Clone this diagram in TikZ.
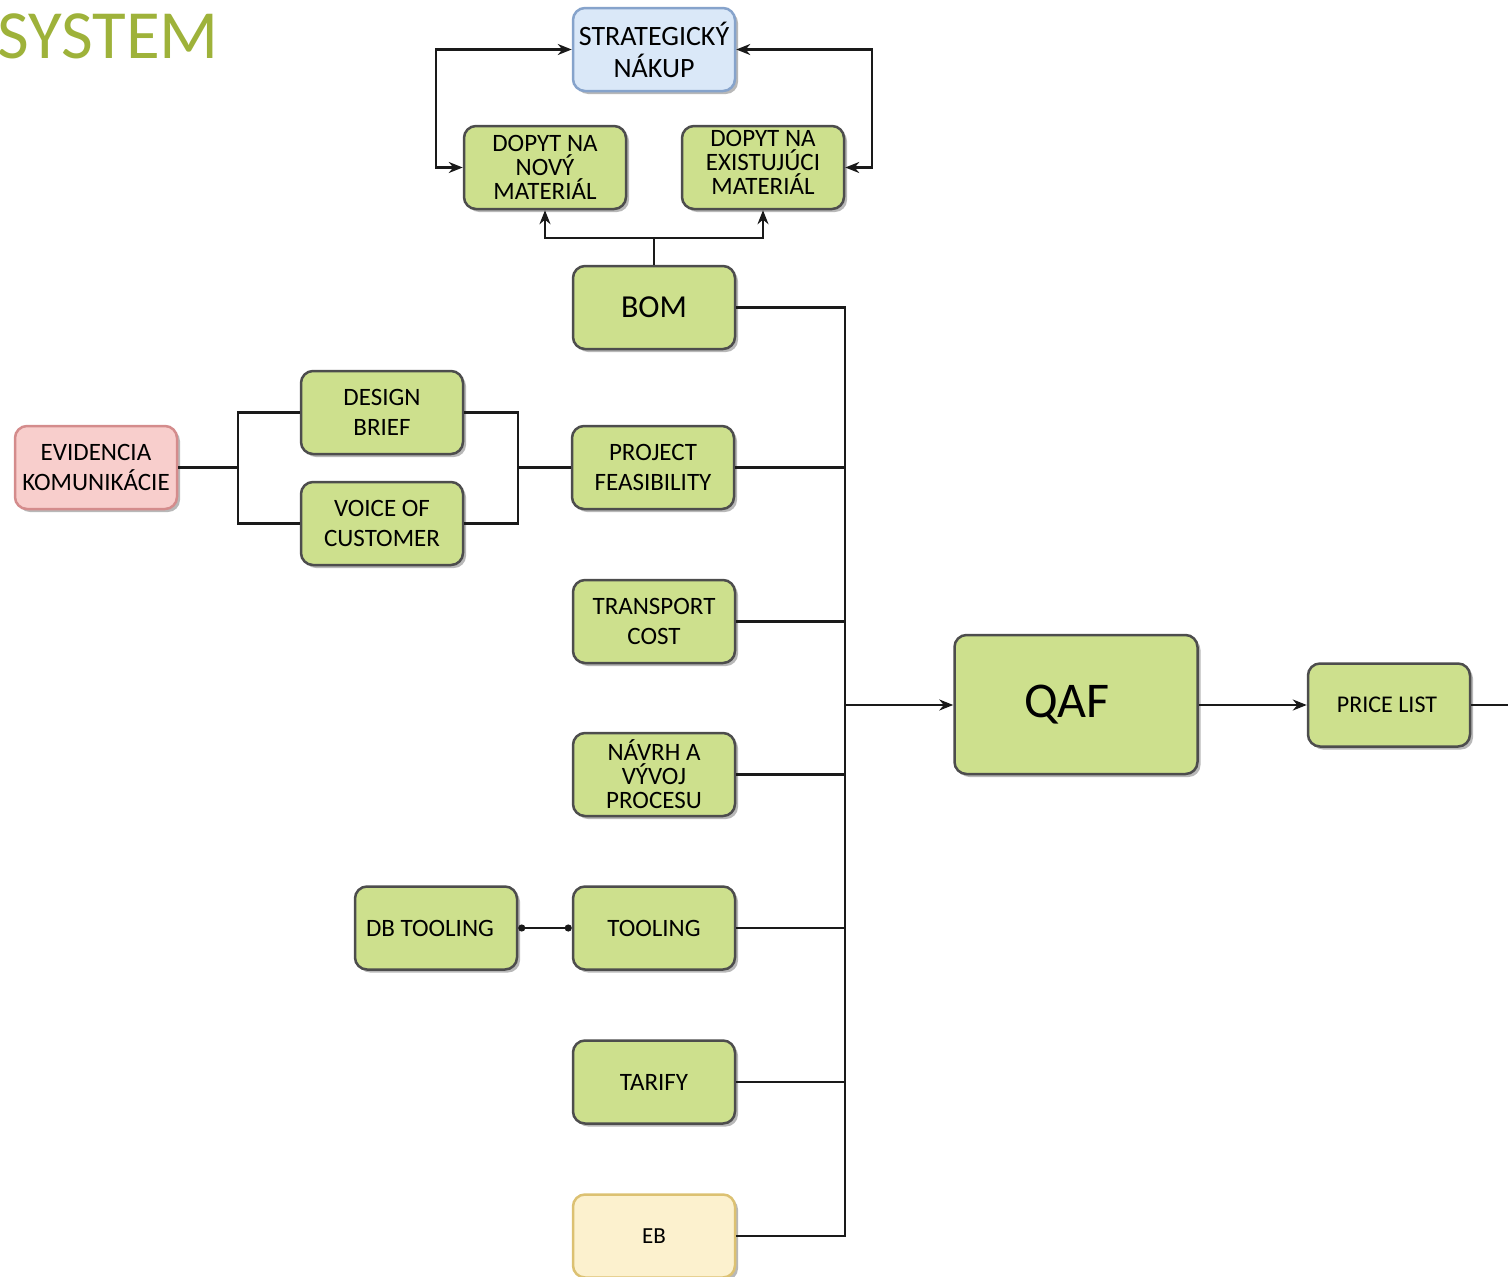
\documentclass[tikz,border=0pt]{standalone}
\usepackage{fontspec}
\setmainfont{Carlito}
\usetikzlibrary{shadows,arrows.meta}
\definecolor{gfill}{HTML}{CDE08D}
\definecolor{gline}{HTML}{4D4D4D}
\definecolor{bfill}{HTML}{DAE8F8}
\definecolor{bline}{HTML}{86A3CB}
\definecolor{pfill}{HTML}{F8CECC}
\definecolor{pline}{HTML}{D48C8C}
\definecolor{yfill}{HTML}{FCF1CE}
\definecolor{yline}{HTML}{DCC172}
\definecolor{titlegreen}{HTML}{9EB23A}
\definecolor{conn}{HTML}{1A1A1A}
\tikzset{
  box/.style={draw=gline, line width=2.5pt, rounded corners=12pt, fill=gfill, align=center,
    inner sep=0pt, minimum width=162pt, minimum height=83pt,
    font=\fontsize{25}{30}\selectfont,
    drop shadow={shadow xshift=3pt, shadow yshift=-3pt, fill=black, opacity=0.28}},
  bluebox/.style={box, draw=bline, fill=bfill},
  pinkbox/.style={box, draw=pline, fill=pfill},
  yellowbox/.style={box, draw=yline, fill=yfill},
  wire/.style={draw=conn, line width=2.2pt},
  arr/.style={wire, -{Stealth[length=14pt,width=11pt]}},
  darr/.style={wire, {Stealth[length=14pt,width=11pt]}-{Stealth[length=14pt,width=11pt]}},
  dotw/.style={wire, {Circle[length=7pt]}-{Circle[length=7pt]}}
}
\begin{document}
\begin{tikzpicture}[x=1pt,y=-1pt]
\useasboundingbox (0,0) rectangle (1508,1277);
\node[anchor=north west, inner sep=0pt, text=titlegreen, font=\fontsize{69}{70}\selectfont] (title) at (-3,14) {SYSTEM};

\node[bluebox, font=\fontsize{28}{32}\selectfont] (strat) at (654,49.5) {STRATEGICKÝ\\NÁKUP};
\node[box, font=\fontsize{25}{24}\selectfont] (novy) at (545,167.5) {DOPYT NA\\NOVÝ\\MATERIÁL};
\node[box, font=\fontsize{25}{24}\selectfont] (exist) at (763,167.5) {\raisebox{5pt}[\height][\depth]{\parbox{150pt}{\centering DOPYT NA\\EXISTUJÚCI\\MATERIÁL}}};
\node[box, font=\fontsize{32}{36}\selectfont] (bom) at (654,307.5) {BOM};
\node[box] (design) at (382,412.5) {DESIGN\\BRIEF};
\node[box] (voice) at (382,523.5) {VOICE OF\\CUSTOMER};
\node[pinkbox] (evid) at (96,467.5) {EVIDENCIA\\KOMUNIKÁCIE};
\node[box] (pf) at (653,467.5) {PROJECT\\FEASIBILITY};
\node[box] (tc) at (654,621.5) {TRANSPORT\\COST};
\node[box, minimum width=243pt, minimum height=139pt, font=\fontsize{50}{54}\selectfont] (qaf) at (1076,704.5) {QAF\hspace*{18pt}};
\node[box, font=\fontsize{24}{28}\selectfont] (price) at (1389,705) {PRICE LIST\hspace*{4pt}};
\node[box, font=\fontsize{25}{24}\selectfont] (navrh) at (654,774.5) {NÁVRH A\\VÝVOJ\\PROCESU};
\node[box] (dbt) at (436,928) {DB TOOLING\hspace*{12pt}};
\node[box] (tool) at (654,928) {TOOLING};
\node[box] (tarify) at (654,1082) {TARIFY};
\node[yellowbox, font=\fontsize{23}{26}\selectfont] (eb) at (654,1236) {EB};

% bus to QAF
\coordinate (bustop) at (845,307.5);
\coordinate (busq) at (845,705);
\coordinate (busbot) at (845,1236);
\draw[wire] (bom.east) -- (bustop) -- (busbot) -- (eb.east);
\draw[wire] (pf.east) -- (pf.east -| bustop);
\draw[wire] (tc.east) -- (tc.east -| bustop);
\draw[wire] (navrh.east) -- (navrh.east -| bustop);
\draw[wire] (tool.east) -- (tool.east -| bustop);
\draw[wire] (tarify.east) -- (tarify.east -| bustop);
\draw[arr] (busq) -- (qaf.west |- busq);
\draw[arr] (qaf.east |- price.west) -- (price.west);
\coordinate (rightedge) at (1508,705);
\draw[wire] (price.east) -- (rightedge);

% top tree
\coordinate (bj) at (654,238);
\draw[wire] (bom.north) -- (bj);
\draw[arr] (bj) -| (novy.south);
\draw[arr] (bj) -| (exist.south);
\draw[darr] (strat.west) -- ++(-136,0) |- (novy.west);
\draw[darr] (strat.east) -- ++(136,0) |- (exist.east);

% left part
\coordinate (ej) at (238,467.5);
\coordinate (dj) at (518,467.5);
\draw[wire] (evid.east) -- (ej);
\draw[wire] (design.west) -| (ej) |- (voice.west);
\draw[wire] (design.east) -| (dj) |- (voice.east);
\draw[wire] (dj) -- (pf.west);

\draw[dotw] (dbt.east) -- (tool.west);
\end{tikzpicture}
\end{document}
